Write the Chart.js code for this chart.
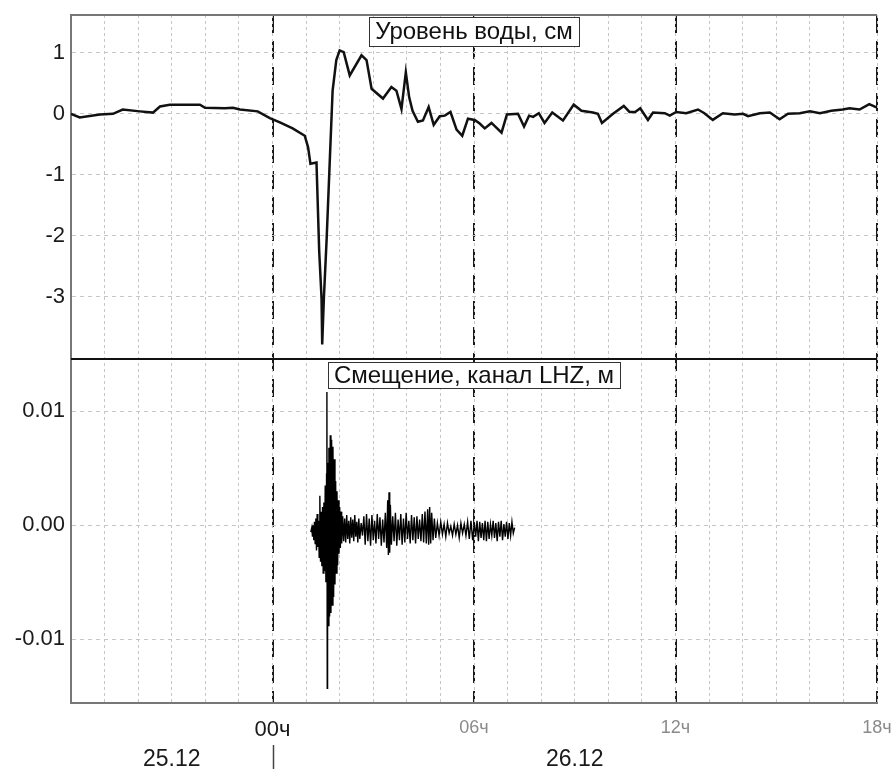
<!DOCTYPE html>
<html>
<head>
<meta charset="utf-8">
<script src="https://cdn.jsdelivr.net/npm/chart.js@4.4.1/dist/chart.umd.min.js"></script>
<style>
  body { margin: 0; background: #fff; }
  #wrap { width: 891px; height: 769px; }
</style>
</head>
<body>
<div id="wrap"><canvas id="chart" width="891" height="769"></canvas></div>
<script>
// time in hours from 00ч (26.12)
const levelT = [-6.00, -5.74, -5.14, -4.75, -4.46, -3.95, -3.56, -3.35, -3.06, -2.16,
  -2.01, -1.42, -1.18, -0.97, -0.44, -0.08, 0.22, 0.60, 0.96, 1.06,
  1.13, 1.31, 1.39, 1.46, 1.48, 1.53, 1.61, 1.71, 1.79, 1.90,
  2.00, 2.12, 2.30, 2.65, 2.80, 2.95, 3.29, 3.54, 3.69, 3.84,
  3.97, 4.07, 4.17, 4.33, 4.48, 4.65, 4.80, 4.98, 5.13, 5.30,
  5.48, 5.65, 5.82, 6.02, 6.17, 6.32, 6.52, 6.82, 6.98, 7.31,
  7.49, 7.64, 7.76, 7.93, 8.10, 8.33, 8.65, 8.97, 9.20, 9.54,
  9.69, 9.81, 10.14, 10.46, 10.63, 10.80, 10.95, 11.18, 11.33, 11.68,
  11.83, 12.02, 12.32, 12.67, 12.86, 13.11, 13.41, 13.76, 14.01, 14.16,
  14.51, 14.81, 15.10, 15.35, 15.70, 16.00, 16.30, 16.64, 16.98, 17.18,
  17.48, 17.77, 18.00];
// water level, cm
const levelV = [0, -0.06, -0.01, 0, 0.07, 0.04, 0.02, 0.12, 0.15, 0.15,
  0.10, 0.09, 0.10, 0.07, 0.04, -0.07, -0.14, -0.24, -0.36, -0.55,
  -0.82, -0.80, -2.25, -3.02, -3.78, -3.02, -2.08, -0.71, 0.38, 0.88,
  1.04, 1.01, 0.63, 0.96, 0.88, 0.41, 0.25, 0.44, 0.38, 0.08,
  0.68, 0.27, 0.05, -0.13, -0.11, 0.11, -0.18, -0.04, -0.03, 0.03,
  -0.26, -0.36, -0.08, -0.10, -0.16, -0.24, -0.15, -0.31, -0.01, 0,
  -0.21, -0.03, -0.05, 0.01, -0.15, 0.02, -0.11, 0.15, 0.05, 0.02,
  0, -0.15, 0, 0.13, 0.03, 0.03, 0.09, -0.10, 0.02, 0.01,
  -0.03, 0.03, 0.01, 0.07, 0.01, -0.10, 0.01, -0.01, 0, -0.04,
  0.01, 0.02, -0.09, 0, 0.01, 0.04, 0.01, 0.05, 0.07, 0.09,
  0.07, 0.16, 0.10];

const seisT = [1.14, 1.17, 1.19, 1.21, 1.23, 1.25, 1.27, 1.29, 1.31, 1.33,
  1.35, 1.37, 1.39, 1.41, 1.43, 1.45, 1.47, 1.49, 1.51, 1.53,
  1.55, 1.57, 1.59, 1.61, 1.62, 1.63, 1.64, 1.66, 1.68, 1.70,
  1.72, 1.74, 1.76, 1.78, 1.80, 1.82, 1.84, 1.86, 1.88, 1.90,
  1.92, 1.94, 1.96, 1.98, 2.00, 2.02, 2.04, 2.06, 2.09, 2.12,
  2.15, 2.18, 2.21, 2.24, 2.27, 2.30, 2.33, 2.36, 2.39, 2.42,
  2.45, 2.48, 2.51, 2.54, 2.57, 2.60, 2.64, 2.68, 2.72, 2.76,
  2.80, 2.84, 2.88, 2.92, 2.96, 3.00, 3.04, 3.08, 3.12, 3.16,
  3.20, 3.24, 3.28, 3.32, 3.36, 3.40, 3.43, 3.45, 3.47, 3.49,
  3.51, 3.54, 3.58, 3.62, 3.66, 3.70, 3.74, 3.78, 3.82, 3.86,
  3.90, 3.94, 3.98, 4.02, 4.06, 4.10, 4.14, 4.18, 4.22, 4.26,
  4.30, 4.34, 4.38, 4.42, 4.46, 4.50, 4.54, 4.58, 4.62, 4.65,
  4.68, 4.71, 4.74, 4.78, 4.82, 4.86, 4.91, 4.96, 5.01, 5.06,
  5.11, 5.16, 5.21, 5.26, 5.31, 5.36, 5.41, 5.46, 5.51, 5.56,
  5.61, 5.66, 5.71, 5.76, 5.81, 5.86, 5.91, 5.96, 6.01, 6.05,
  6.09, 6.13, 6.17, 6.21, 6.25, 6.29, 6.33, 6.37, 6.41, 6.45,
  6.49, 6.53, 6.57, 6.61, 6.65, 6.69, 6.73, 6.77, 6.81, 6.85,
  6.89, 6.93, 6.97, 7.01, 7.05, 7.09, 7.13, 7.17, 7.21];
// displacement, LHZ channel, m
const seisV = [-0.0006, -0.0002, -0.0010, 0.0000, -0.0013, 0.0003, -0.0016, 0.0006, -0.0022, 0.0010,
  -0.0019, 0.0004, -0.0028, 0.0026, -0.0032, 0.0012, -0.0036, 0.0016, -0.0042, 0.0020,
  -0.0040, 0.0035, -0.0050, 0.0045, 0.0117, -0.0143, 0.0055, -0.0088, 0.0068, -0.0080,
  0.0079, -0.0077, 0.0075, -0.0070, 0.0069, -0.0063, 0.0058, -0.0052, 0.0039, -0.0042,
  0.0030, -0.0035, 0.0022, -0.0025, 0.0016, -0.0020, 0.0012, -0.0016, 0.0008, -0.0014,
  0.0006, -0.0015, 0.0009, -0.0012, 0.0004, -0.0016, 0.0007, -0.0011, 0.0005, -0.0014,
  0.0009, -0.0010, 0.0003, -0.0015, 0.0006, -0.0012, 0.0002, -0.0009, 0.0008, -0.0017,
  0.0010, -0.0014, 0.0006, -0.0018, 0.0009, -0.0013, 0.0004, -0.0016, 0.0010, -0.0012,
  0.0007, -0.0018, 0.0005, -0.0015, 0.0011, -0.0020, 0.0022, -0.0026, 0.0029, -0.0024,
  0.0018, -0.0017, 0.0008, -0.0014, 0.0011, -0.0018, 0.0005, -0.0013, 0.0010, -0.0017,
  0.0006, -0.0015, 0.0011, -0.0012, 0.0004, -0.0016, 0.0009, -0.0013, 0.0007, -0.0016,
  0.0008, -0.0012, 0.0005, -0.0014, 0.0010, -0.0015, 0.0012, -0.0016, 0.0014, -0.0017,
  0.0016, -0.0016, 0.0011, -0.0013, 0.0006, -0.0011, 0.0002, -0.0009, 0.0003, -0.0008,
  0.0001, -0.0010, 0.0002, -0.0007, -0.0001, -0.0009, 0.0001, -0.0008, 0.0000, -0.0011,
  0.0002, -0.0007, 0.0001, -0.0009, 0.0003, -0.0012, 0.0004, -0.0013, 0.0002, -0.0010,
  0.0004, -0.0014, 0.0003, -0.0011, 0.0002, -0.0013, 0.0004, -0.0014, 0.0003, -0.0012,
  0.0001, -0.0009, 0.0004, -0.0011, 0.0002, -0.0014, 0.0003, -0.0010, 0.0004, -0.0013,
  0.0001, -0.0010, 0.0003, -0.0012, 0.0002, -0.0009, 0.0003, -0.0007, -0.0002];

const hourTicks = [0, 6, 12, 18];
const hourLabels = ['00ч', '06ч', '12ч', '18ч'];
const levelTicks = [1, 0, -1, -2, -3];
const seisTicks = [0.01, 0, -0.01];
const dateLabels = ['25.12', '26.12'];
const datePos = [-3, 9];
const panelTitles = ['Уровень воды, см', 'Смещение, канал LHZ, м'];

const FONT = '"Liberation Sans", Arial, sans-serif';
Chart.defaults.font.family = FONT;

// keep the plot frame where the picture has it
function fixY(s) { s.width = 71; s.paddingTop = 0; s.paddingBottom = 0; }

// boxed panel titles, divider, date row
const decor = {
  id: 'decor',
  afterDatasetsDraw(chart) {
    const {ctx, chartArea: ca, scales} = chart;
    ctx.save();
    ctx.strokeStyle = '#777';
    ctx.lineWidth = 2;
    ctx.beginPath(); ctx.moveTo(ca.left, ca.top); ctx.lineTo(ca.right, ca.top); ctx.stroke();

    ctx.strokeStyle = '#111';
    ctx.beginPath(); ctx.moveTo(ca.left, scales.y.bottom); ctx.lineTo(ca.right, scales.y.bottom); ctx.stroke();

    ctx.font = '24px ' + FONT;
    ctx.textAlign = 'center';
    ctx.textBaseline = 'middle';
    const cx = (ca.left + ca.right) / 2;
    [scales.y, scales.y2].forEach((s, i) => {
      const text = panelTitles[i];
      const w = Math.round(ctx.measureText(text).width + 12);
      const top = Math.round(s.top) + (i === 0 ? 2 : 3);
      const h = i === 0 ? 29 : 26;
      const left = Math.round(cx - w / 2);
      ctx.fillStyle = '#fff';
      ctx.fillRect(left, top, w, h);
      ctx.strokeStyle = '#333';
      ctx.lineWidth = 1;
      ctx.strokeRect(left + 0.5, top + 0.5, w, h);
      ctx.fillStyle = '#111';
      ctx.fillText(text, cx, top + h / 2 + 1);
    });
    ctx.restore();
  },
  afterDraw(chart) {
    const {ctx, scales} = chart;
    const x = scales.x;
    ctx.save();
    ctx.font = '23px ' + FONT;
    ctx.fillStyle = '#1a1a1a';
    ctx.textAlign = 'center';
    ctx.textBaseline = 'middle';
    dateLabels.forEach((d, i) => ctx.fillText(d, x.getPixelForValue(datePos[i]), 760));
    const x0 = Math.round(x.getPixelForValue(0)) + 0.5;
    ctx.strokeStyle = '#444';
    ctx.lineWidth = 1.5;
    ctx.beginPath(); ctx.moveTo(x0, 745); ctx.lineTo(x0, 769); ctx.stroke();
    ctx.restore();
  }
};

new Chart(document.getElementById('chart'), {
  type: 'line',
  data: {
    datasets: [
      {
        data: levelT.map((t, i) => ({x: t, y: levelV[i]})),
        xAxisID: 'x', yAxisID: 'y',
        borderColor: '#111', borderWidth: 2.5, pointRadius: 0, tension: 0
      },
      {
        data: seisT.map((t, i) => ({x: t, y: seisV[i]})),
        xAxisID: 'x', yAxisID: 'y2',
        borderColor: '#000', borderWidth: 1.4, pointRadius: 0, tension: 0
      }
    ]
  },
  options: {
    responsive: false,
    animation: false,
    devicePixelRatio: 1,
    layout: { padding: { top: 15, right: 14, left: 0, bottom: 0 } },
    plugins: { legend: { display: false }, tooltip: { enabled: false } },
    scales: {
      x: {
        type: 'linear', min: -6, max: 18, position: 'bottom', weight: 2,
        afterBuildTicks: s => { s.ticks = hourTicks.map(v => ({value: v})); },
        afterFit: s => { s.height = 66; s.paddingLeft = 0; s.paddingRight = 0; },
        grid: { color: '#1a1a1a', lineWidth: 2, drawTicks: false },
        border: { color: '#777', width: 2, dash: [18, 8] },
        ticks: {
          padding: 14,
          maxRotation: 0,
          autoSkip: false,
          callback: (v, i) => hourLabels[i],
          color: c => c.index === 0 ? '#1a1a1a' : '#8a8a8a',
          font: c => c.index === 0 ? {size: 22} : {size: 18}
        }
      },
      x2: {
        type: 'linear', min: -6, max: 18, position: 'bottom', weight: 1,
        afterFit: s => { s.height = 0; s.paddingLeft = 0; s.paddingRight = 0; },
        grid: { color: '#c6c6c6', lineWidth: 1, drawTicks: false },
        border: { display: false, dash: [3, 3] },
        ticks: { stepSize: 1, display: false }
      },
      y: {
        type: 'linear', min: -4.02, max: 1.62, position: 'left',
        stack: 'panels', stackWeight: 1, weight: 2,
        afterBuildTicks: s => { s.ticks = levelTicks.map(v => ({value: v})); },
        afterFit: fixY,
        grid: { color: '#c6c6c6', lineWidth: 1, drawTicks: false },
        border: { color: '#777', width: 2, dash: [4, 4] },
        ticks: { padding: 6, color: '#1a1a1a', font: {size: 22}, callback: v => String(v) }
      },
      y2: {
        type: 'linear', min: -0.0156, max: 0.0146, position: 'left',
        stack: 'panels', stackWeight: 1, weight: 1,
        afterBuildTicks: s => { s.ticks = seisTicks.map(v => ({value: v})); },
        afterFit: fixY,
        grid: { color: '#c6c6c6', lineWidth: 1, drawTicks: false },
        border: { color: '#777', width: 2, dash: [4, 4] },
        ticks: { padding: 6, color: '#1a1a1a', font: {size: 22}, callback: v => v.toFixed(2) }
      }
    }
  },
  plugins: [decor]
});
</script>
</body>
</html>
